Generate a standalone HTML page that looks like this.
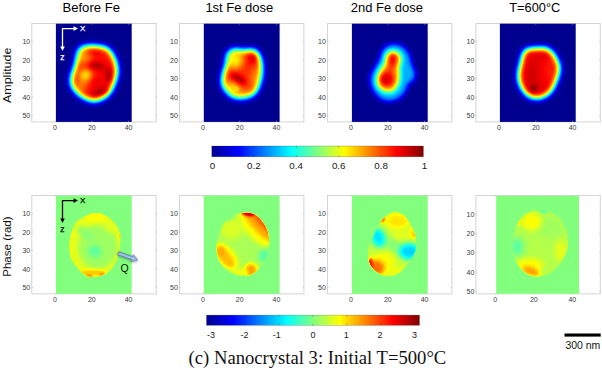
<!DOCTYPE html>
<html><head><meta charset="utf-8"><title>Nanocrystal 3</title>
<style>html,body{margin:0;padding:0;background:#fff}svg{display:block}</style></head>
<body><svg width="602" height="368" viewBox="0 0 602 368">
<defs><filter id="jet" x="0" y="0" width="100%" height="100%" filterUnits="objectBoundingBox" color-interpolation-filters="sRGB">
<feComponentTransfer>
<feFuncR type="table" tableValues="0 0 0 0 0.5 1 1 1 0.5"/>
<feFuncG type="table" tableValues="0 0 0.5 1 1 1 0.5 0 0"/>
<feFuncB type="table" tableValues="0.5625 1 1 1 0.5 0 0 0 0"/>
</feComponentTransfer></filter><filter id="b1" x="-50%" y="-50%" width="200%" height="200%" color-interpolation-filters="sRGB"><feGaussianBlur stdDeviation="1"/></filter><filter id="b1_5" x="-50%" y="-50%" width="200%" height="200%" color-interpolation-filters="sRGB"><feGaussianBlur stdDeviation="1.5"/></filter><filter id="b2" x="-50%" y="-50%" width="200%" height="200%" color-interpolation-filters="sRGB"><feGaussianBlur stdDeviation="2"/></filter><filter id="b2_5" x="-50%" y="-50%" width="200%" height="200%" color-interpolation-filters="sRGB"><feGaussianBlur stdDeviation="2.5"/></filter><filter id="b3" x="-50%" y="-50%" width="200%" height="200%" color-interpolation-filters="sRGB"><feGaussianBlur stdDeviation="3"/></filter><filter id="b4" x="-50%" y="-50%" width="200%" height="200%" color-interpolation-filters="sRGB"><feGaussianBlur stdDeviation="4"/></filter><filter id="b5" x="-50%" y="-50%" width="200%" height="200%" color-interpolation-filters="sRGB"><feGaussianBlur stdDeviation="5"/></filter><filter id="b6" x="-50%" y="-50%" width="200%" height="200%" color-interpolation-filters="sRGB"><feGaussianBlur stdDeviation="6"/></filter><clipPath id="ca0"><rect x="55.9" y="23.7" width="75.8" height="98.2"/></clipPath><clipPath id="cs0"><path d="M90.5,45.5C86.6,45.5 83.5,46.0 81.4,47.1C79.2,48.1 78.5,49.8 77.6,52.1C76.7,54.3 76.5,57.8 76.0,60.5C75.4,63.1 75.1,65.4 74.3,68.1C73.4,70.9 71.4,74.0 71.0,77.1C70.6,80.2 70.7,83.8 71.9,86.7C73.1,89.5 75.7,92.2 78.3,94.4C81.0,96.6 85.0,98.8 87.9,99.9C90.8,101.1 92.8,101.7 95.6,101.3C98.5,100.9 102.6,99.5 105.2,97.6C107.9,95.7 109.9,92.7 111.6,90.0C113.3,87.3 114.4,84.2 115.4,81.2C116.4,78.2 117.4,75.2 117.5,71.9C117.6,68.7 117.1,65.0 116.0,61.6C114.9,58.3 113.1,54.4 111.2,52.0C109.3,49.6 108.2,48.1 104.7,47.1C101.3,46.0 94.4,45.5 90.5,45.5Z"/></clipPath><clipPath id="ca1"><rect x="203.8" y="23.7" width="75.8" height="98.2"/></clipPath><clipPath id="cs1"><path d="M243.5,50.4C241.1,50.4 238.3,48.8 236.1,48.8C233.9,48.8 231.9,49.4 230.4,50.5C228.8,51.5 227.5,52.7 226.8,55.0C226.0,57.4 226.4,60.9 225.7,64.6C224.9,68.2 222.7,73.1 222.2,76.7C221.7,80.3 221.7,83.2 222.6,86.0C223.6,88.9 225.8,91.9 228.0,93.9C230.2,95.9 233.2,97.3 236.0,98.0C238.8,98.8 241.8,98.9 244.8,98.3C247.9,97.7 251.6,96.8 254.1,94.5C256.7,92.1 258.6,88.0 259.9,84.2C261.3,80.5 262.0,75.9 262.2,71.8C262.4,67.8 262.0,63.2 261.1,59.9C260.3,56.6 258.8,53.6 257.0,51.8C255.3,50.1 252.8,49.4 250.5,49.2C248.3,48.9 245.9,50.5 243.5,50.4Z"/></clipPath><clipPath id="ca2"><rect x="351.9" y="23.7" width="75.8" height="98.2"/></clipPath><clipPath id="cs2"><path d="M392.2,51.3C390.0,51.5 387.5,53.3 386.3,55.3C385.1,57.2 385.7,60.7 384.8,63.1C383.8,65.5 381.9,67.0 380.6,69.5C379.3,71.9 377.5,75.0 377.1,77.8C376.8,80.7 377.1,84.4 378.5,86.7C379.9,89.0 383.1,91.2 385.7,91.8C388.3,92.4 391.9,92.0 394.1,90.4C396.3,88.9 397.9,85.3 398.8,82.6C399.8,79.9 399.7,76.6 399.7,74.0C399.8,71.5 399.0,69.6 399.3,67.2C399.5,64.8 401.3,62.0 401.3,59.7C401.3,57.4 400.6,54.9 399.1,53.5C397.6,52.1 394.3,51.0 392.2,51.3Z"/></clipPath><clipPath id="ca3"><rect x="499.9" y="23.7" width="75.8" height="98.2"/></clipPath><clipPath id="cs3"><path d="M537.1,48.0C533.8,48.1 529.5,48.0 527.1,48.9C524.8,49.8 524.0,51.3 523.0,53.5C521.9,55.7 521.5,58.8 520.8,62.0C520.0,65.3 518.5,69.5 518.3,73.1C518.0,76.6 518.1,80.0 519.3,83.5C520.5,86.9 523.0,91.2 525.3,93.7C527.7,96.1 530.5,97.6 533.3,98.3C536.1,99.0 539.3,98.7 542.1,97.8C544.9,96.8 547.8,95.4 550.1,92.8C552.4,90.2 554.5,86.0 556.1,82.2C557.7,78.4 559.3,73.2 559.6,69.9C559.9,66.5 559.3,64.8 558.2,61.9C557.1,59.1 554.9,55.2 553.0,52.9C551.2,50.7 549.8,49.2 547.1,48.4C544.5,47.6 540.5,47.9 537.1,48.0Z"/></clipPath><clipPath id="cp0"><path d="M95.8,212.7C91.9,212.8 86.9,214.9 83.5,216.7C80.1,218.6 77.5,220.6 75.4,223.5C73.3,226.5 71.8,230.6 70.8,234.4C69.7,238.3 69.0,242.6 69.1,246.6C69.2,250.7 69.8,255.2 71.3,258.9C72.8,262.5 75.6,265.5 78.1,268.4C80.6,271.2 83.3,274.6 86.2,276.0C89.2,277.4 92.6,277.1 95.8,276.8C98.9,276.5 102.3,275.8 105.3,274.1C108.2,272.3 111.3,269.2 113.4,266.2C115.6,263.2 116.9,259.6 118.0,256.1C119.2,252.7 119.9,249.1 120.2,245.3C120.5,241.4 120.6,236.7 119.7,233.0C118.8,229.4 117.0,226.3 114.8,223.5C112.6,220.7 109.8,218.0 106.6,216.2C103.5,214.4 99.6,212.6 95.8,212.7Z"/></clipPath><clipPath id="cp1"><path d="M245.1,212.7C241.5,212.8 236.3,213.8 232.9,215.4C229.5,217.0 227.0,219.2 224.7,222.2C222.5,225.1 220.7,229.0 219.3,233.0C217.9,237.1 216.8,242.6 216.6,246.6C216.4,250.7 216.8,254.1 217.9,257.5C219.1,260.9 220.9,264.3 223.4,267.0C225.9,269.7 229.5,272.3 232.9,273.8C236.3,275.3 240.4,276.0 243.8,276.0C247.2,276.0 250.3,275.5 253.3,273.8C256.2,272.1 259.2,268.8 261.4,265.7C263.7,262.5 265.6,258.6 266.9,254.8C268.1,250.9 268.9,246.4 269.0,242.6C269.2,238.7 268.7,235.1 267.7,231.7C266.6,228.3 265.0,225.0 262.8,222.2C260.6,219.3 257.6,216.2 254.6,214.6C251.7,213.0 248.7,212.5 245.1,212.7Z"/></clipPath><clipPath id="cp2"><path d="M394.5,211.8C391.8,212.0 388.7,213.7 386.3,215.4C384.0,217.1 382.2,219.5 380.3,222.2C378.5,224.9 377.1,228.3 375.5,231.7C373.8,235.1 371.8,238.9 370.6,242.6C369.3,246.2 368.0,250.0 367.8,253.4C367.7,256.8 368.2,260.0 369.5,262.9C370.7,265.9 372.9,268.9 375.5,271.1C378.0,273.3 381.8,275.3 385.0,276.0C388.1,276.7 391.5,276.2 394.5,275.2C397.4,274.1 400.1,272.0 402.6,269.7C405.1,267.5 407.4,264.5 409.4,261.6C411.5,258.6 413.7,255.2 414.9,252.1C416.0,248.9 416.4,246.0 416.2,242.6C416.1,239.2 415.2,235.1 414.0,231.7C412.9,228.3 411.3,225.0 409.4,222.2C407.5,219.3 405.1,216.3 402.6,214.6C400.1,212.8 397.2,211.7 394.5,211.8Z"/></clipPath><clipPath id="cp3"><path d="M539.9,210.0C536.0,209.8 532.2,210.5 529.0,211.9C525.8,213.2 523.1,215.3 520.9,218.1C518.6,221.0 516.8,225.2 515.4,229.0C514.1,232.9 513.1,237.4 512.7,241.3C512.2,245.1 512.0,248.5 512.7,252.2C513.4,255.8 514.7,259.6 516.8,263.0C518.8,266.4 522.0,270.3 524.9,272.6C527.9,274.8 531.1,276.2 534.5,276.6C537.9,277.1 541.9,276.4 545.3,275.3C548.8,274.2 551.9,272.6 554.9,269.8C557.8,267.1 560.9,262.8 563.0,259.0C565.2,255.1 567.3,251.0 567.9,246.7C568.6,242.4 568.2,237.4 567.1,233.1C566.1,228.8 564.2,224.3 561.7,220.9C559.2,217.5 555.8,214.5 552.2,212.7C548.5,210.9 543.8,210.1 539.9,210.0Z"/></clipPath><linearGradient id="jg" x1="0" x2="1" y1="0" y2="0">
<stop offset="0" stop-color="#00008f"/><stop offset="0.125" stop-color="#0000ff"/><stop offset="0.25" stop-color="#0080ff"/><stop offset="0.375" stop-color="#00ffff"/><stop offset="0.5" stop-color="#80ff80"/><stop offset="0.625" stop-color="#ffff00"/><stop offset="0.75" stop-color="#ff8000"/><stop offset="0.875" stop-color="#ff0000"/><stop offset="1" stop-color="#800000"/></linearGradient><filter id="sh" x="-30%" y="-30%" width="180%" height="200%"><feDropShadow dx="0.8" dy="1" stdDeviation="0.8" flood-color="#000" flood-opacity="0.35"/></filter></defs>
<rect width="602" height="368" fill="#fff"/>
<rect x="31.8" y="23.5" width="124.4" height="98.4" fill="none" stroke="#d4d4d4" stroke-width="1"/>
<rect x="179.5" y="23.5" width="124.4" height="98.4" fill="none" stroke="#d4d4d4" stroke-width="1"/>
<rect x="327.5" y="23.5" width="124.4" height="98.4" fill="none" stroke="#d4d4d4" stroke-width="1"/>
<rect x="475.9" y="23.5" width="124.4" height="98.4" fill="none" stroke="#d4d4d4" stroke-width="1"/>
<rect x="31.8" y="195.5" width="124.4" height="98.4" fill="none" stroke="#d4d4d4" stroke-width="1"/>
<rect x="179.5" y="195.5" width="124.4" height="98.4" fill="none" stroke="#d4d4d4" stroke-width="1"/>
<rect x="327.5" y="195.5" width="124.4" height="98.4" fill="none" stroke="#d4d4d4" stroke-width="1"/>
<rect x="475.9" y="195.5" width="124.4" height="98.4" fill="none" stroke="#d4d4d4" stroke-width="1"/>
<g filter="url(#jet)"><rect x="55.9" y="23.7" width="75.8" height="98.2" fill="#000"/><g clip-path="url(#ca0)"><g style="filter:blur(3.2px)"><path d="M90.5,45.5C86.6,45.5 83.5,46.0 81.4,47.1C79.2,48.1 78.5,49.8 77.6,52.1C76.7,54.3 76.5,57.8 76.0,60.5C75.4,63.1 75.1,65.4 74.3,68.1C73.4,70.9 71.4,74.0 71.0,77.1C70.6,80.2 70.7,83.8 71.9,86.7C73.1,89.5 75.7,92.2 78.3,94.4C81.0,96.6 85.0,98.8 87.9,99.9C90.8,101.1 92.8,101.7 95.6,101.3C98.5,100.9 102.6,99.5 105.2,97.6C107.9,95.7 109.9,92.7 111.6,90.0C113.3,87.3 114.4,84.2 115.4,81.2C116.4,78.2 117.4,75.2 117.5,71.9C117.6,68.7 117.1,65.0 116.0,61.6C114.9,58.3 113.1,54.4 111.2,52.0C109.3,49.6 108.2,48.1 104.7,47.1C101.3,46.0 94.4,45.5 90.5,45.5Z" fill="#dbdbdb"/><g clip-path="url(#cs0)"><ellipse cx="84.3" cy="55.6" rx="8.2" ry="8.2" fill="#b8b8b8" transform="rotate(0 84.3 55.6)" style="filter:blur(1.7600000000000002px)" opacity="1"/><ellipse cx="85.4" cy="75.2" rx="6.5" ry="6.5" fill="#a8a8a8" transform="rotate(0 85.4 75.2)" style="filter:blur(1.6px)" opacity="1"/><ellipse cx="81.1" cy="86.0" rx="4.9" ry="6.0" fill="#bababa" transform="rotate(0 81.1 86.0)" style="filter:blur(1.7600000000000002px)" opacity="1"/><ellipse cx="96.3" cy="65.7" rx="9.2" ry="3.0" fill="#fcfcfc" transform="rotate(8 96.3 65.7)" style="filter:blur(1.2800000000000002px)" opacity="1"/><ellipse cx="108.8" cy="75.2" rx="3.0" ry="9.2" fill="#fafafa" transform="rotate(0 108.8 75.2)" style="filter:blur(1.4400000000000002px)" opacity="1"/><ellipse cx="100.7" cy="92.0" rx="10.9" ry="3.8" fill="#f7f7f7" transform="rotate(-15 100.7 92.0)" style="filter:blur(1.4400000000000002px)" opacity="1"/><ellipse cx="93.0" cy="51.8" rx="7.1" ry="2.2" fill="#f2f2f2" transform="rotate(0 93.0 51.8)" style="filter:blur(1.1199999999999999px)" opacity="1"/><ellipse cx="95.8" cy="81.4" rx="5.4" ry="3.8" fill="#ebebeb" transform="rotate(0 95.8 81.4)" style="filter:blur(1.6px)" opacity="1"/></g></g><ellipse cx="96.3" cy="65.7" rx="7.1" ry="1.4" fill="#ffffff" transform="rotate(8 96.3 65.7)" style="filter:blur(1.8px)" opacity="0.5"/><ellipse cx="108.8" cy="75.2" rx="1.4" ry="6.5" fill="#ffffff" transform="rotate(0 108.8 75.2)" style="filter:blur(1.8px)" opacity="0.5"/><ellipse cx="100.7" cy="92.0" rx="8.2" ry="1.6" fill="#ffffff" transform="rotate(-15 100.7 92.0)" style="filter:blur(1.8px)" opacity="0.45"/><ellipse cx="85.4" cy="75.2" rx="3.8" ry="3.8" fill="#a3a3a3" transform="rotate(0 85.4 75.2)" style="filter:blur(2px)" opacity="0.6"/></g></g>
<g filter="url(#jet)"><rect x="203.8" y="23.7" width="75.8" height="98.2" fill="#000"/><g clip-path="url(#ca1)"><g style="filter:blur(3.4px)"><path d="M243.5,50.4C241.1,50.4 238.3,48.8 236.1,48.8C233.9,48.8 231.9,49.4 230.4,50.5C228.8,51.5 227.5,52.7 226.8,55.0C226.0,57.4 226.4,60.9 225.7,64.6C224.9,68.2 222.7,73.1 222.2,76.7C221.7,80.3 221.7,83.2 222.6,86.0C223.6,88.9 225.8,91.9 228.0,93.9C230.2,95.9 233.2,97.3 236.0,98.0C238.8,98.8 241.8,98.9 244.8,98.3C247.9,97.7 251.6,96.8 254.1,94.5C256.7,92.1 258.6,88.0 259.9,84.2C261.3,80.5 262.0,75.9 262.2,71.8C262.4,67.8 262.0,63.2 261.1,59.9C260.3,56.6 258.8,53.6 257.0,51.8C255.3,50.1 252.8,49.4 250.5,49.2C248.3,48.9 245.9,50.5 243.5,50.4Z" fill="#cfcfcf"/><g clip-path="url(#cs1)"><ellipse cx="235.1" cy="60.0" rx="7.3" ry="8.2" fill="#9e9e9e" transform="rotate(0 235.1 60.0)" style="filter:blur(1.7600000000000002px)" opacity="1"/><ellipse cx="253.0" cy="57.8" rx="4.9" ry="6.0" fill="#f2f2f2" transform="rotate(25 253.0 57.8)" style="filter:blur(1.6px)" opacity="1"/><ellipse cx="238.3" cy="78.7" rx="9.8" ry="3.0" fill="#ffffff" transform="rotate(32 238.3 78.7)" style="filter:blur(1.2800000000000002px)" opacity="1"/><ellipse cx="231.0" cy="87.7" rx="5.4" ry="6.0" fill="#a3a3a3" transform="rotate(0 231.0 87.7)" style="filter:blur(1.7600000000000002px)" opacity="1"/><ellipse cx="236.7" cy="89.0" rx="2.4" ry="2.4" fill="#858585" transform="rotate(0 236.7 89.0)" style="filter:blur(0.8800000000000001px)" opacity="1"/><ellipse cx="256.3" cy="79.5" rx="3.3" ry="11.4" fill="#b2b2b2" transform="rotate(0 256.3 79.5)" style="filter:blur(2.0px)" opacity="1"/><ellipse cx="244.6" cy="94.7" rx="8.2" ry="2.4" fill="#a8a8a8" transform="rotate(0 244.6 94.7)" style="filter:blur(1.7600000000000002px)" opacity="1"/><ellipse cx="246.5" cy="68.7" rx="5.4" ry="3.8" fill="#dbdbdb" transform="rotate(0 246.5 68.7)" style="filter:blur(2.0px)" opacity="1"/></g></g><ellipse cx="238.9" cy="79.0" rx="7.1" ry="1.6" fill="#ffffff" transform="rotate(32 238.9 79.0)" style="filter:blur(1.8px)" opacity="0.6"/><ellipse cx="236.7" cy="89.0" rx="1.6" ry="1.6" fill="#8c8c8c" transform="rotate(0 236.7 89.0)" style="filter:blur(1.4px)" opacity="0.7"/></g></g>
<g filter="url(#jet)"><rect x="351.9" y="23.7" width="75.8" height="98.2" fill="#000"/><g clip-path="url(#ca2)"><path d="M391.9,43.9C388.8,44.4 385.2,46.0 383.1,48.6C380.9,51.2 380.7,56.1 379.1,59.5C377.5,63.0 374.8,66.1 373.3,69.4C371.7,72.8 369.9,75.8 369.9,79.5C370.0,83.2 371.4,88.1 373.6,91.5C375.8,95.0 379.3,98.9 383.0,100.3C386.7,101.8 392.1,101.5 395.7,100.2C399.4,98.9 402.9,95.2 405.0,92.5C407.1,89.9 406.7,86.5 408.3,84.3C409.8,82.0 413.3,81.0 414.4,78.9C415.6,76.9 415.6,74.5 415.1,71.9C414.7,69.4 412.5,66.6 411.5,63.5C410.5,60.5 410.6,56.8 409.1,53.8C407.5,50.9 405.0,47.7 402.1,46.0C399.2,44.4 395.1,43.5 391.9,43.9Z" fill="#4c4c4c" style="filter:blur(2.6px)"/><g style="filter:blur(2.7px)"><path d="M392.2,51.3C390.0,51.5 387.5,53.3 386.3,55.3C385.1,57.2 385.7,60.7 384.8,63.1C383.8,65.5 381.9,67.0 380.6,69.5C379.3,71.9 377.5,75.0 377.1,77.8C376.8,80.7 377.1,84.4 378.5,86.7C379.9,89.0 383.1,91.2 385.7,91.8C388.3,92.4 391.9,92.0 394.1,90.4C396.3,88.9 397.9,85.3 398.8,82.6C399.8,79.9 399.7,76.6 399.7,74.0C399.8,71.5 399.0,69.6 399.3,67.2C399.5,64.8 401.3,62.0 401.3,59.7C401.3,57.4 400.6,54.9 399.1,53.5C397.6,52.1 394.3,51.0 392.2,51.3Z" fill="#b8b8b8"/><g clip-path="url(#cs2)"><ellipse cx="392.6" cy="59.4" rx="3.5" ry="7.6" fill="#ededed" transform="rotate(5 392.6 59.4)" style="filter:blur(1.4400000000000002px)" opacity="1"/><ellipse cx="386.6" cy="79.2" rx="7.3" ry="7.1" fill="#ebebeb" transform="rotate(0 386.6 79.2)" style="filter:blur(1.6px)" opacity="1"/><ellipse cx="390.7" cy="69.7" rx="2.7" ry="5.4" fill="#dbdbdb" transform="rotate(20 390.7 69.7)" style="filter:blur(1.6px)" opacity="1"/></g></g></g></g>
<g filter="url(#jet)"><rect x="499.9" y="23.7" width="75.8" height="98.2" fill="#000"/><g clip-path="url(#ca3)"><g style="filter:blur(3.2px)"><path d="M537.1,48.0C533.8,48.1 529.5,48.0 527.1,48.9C524.8,49.8 524.0,51.3 523.0,53.5C521.9,55.7 521.5,58.8 520.8,62.0C520.0,65.3 518.5,69.5 518.3,73.1C518.0,76.6 518.1,80.0 519.3,83.5C520.5,86.9 523.0,91.2 525.3,93.7C527.7,96.1 530.5,97.6 533.3,98.3C536.1,99.0 539.3,98.7 542.1,97.8C544.9,96.8 547.8,95.4 550.1,92.8C552.4,90.2 554.5,86.0 556.1,82.2C557.7,78.4 559.3,73.2 559.6,69.9C559.9,66.5 559.3,64.8 558.2,61.9C557.1,59.1 554.9,55.2 553.0,52.9C551.2,50.7 549.8,49.2 547.1,48.4C544.5,47.6 540.5,47.9 537.1,48.0Z" fill="#e3e3e3"/><g clip-path="url(#cs3)"><ellipse cx="533.2" cy="88.2" rx="5.4" ry="4.9" fill="#f7f7f7" transform="rotate(0 533.2 88.2)" style="filter:blur(1.4400000000000002px)" opacity="1"/><ellipse cx="532.2" cy="73.3" rx="2.4" ry="13.6" fill="#f2f2f2" transform="rotate(5 532.2 73.3)" style="filter:blur(1.6px)" opacity="1"/><ellipse cx="550.6" cy="69.2" rx="4.9" ry="13.6" fill="#d6d6d6" transform="rotate(0 550.6 69.2)" style="filter:blur(2.0px)" opacity="1"/><ellipse cx="539.8" cy="55.6" rx="10.9" ry="4.1" fill="#e8e8e8" transform="rotate(0 539.8 55.6)" style="filter:blur(2.0px)" opacity="1"/></g></g><ellipse cx="533.5" cy="88.5" rx="2.7" ry="2.4" fill="#ffffff" transform="rotate(0 533.5 88.5)" style="filter:blur(1.6px)" opacity="0.9"/></g></g>
<g filter="url(#jet)"><rect x="55.9" y="195.6" width="75.8" height="98.2" fill="#808080"/><g clip-path="url(#cp0)"><rect x="55.9" y="195.6" width="75.8" height="98.2" fill="#9a9a9a"/><ellipse cx="97.1" cy="247.2" rx="19.0" ry="22.8" fill="#888888" transform="rotate(0 97.1 247.2)" style="filter:blur(2.6px)"/><ellipse cx="85.4" cy="233.0" rx="10.3" ry="4.1" fill="#818181" transform="rotate(35 85.4 233.0)" style="filter:blur(2.4px)"/><ellipse cx="95.2" cy="251.2" rx="7.1" ry="6.0" fill="#777777" transform="rotate(0 95.2 251.2)" style="filter:blur(2.6px)"/><ellipse cx="109.3" cy="246.6" rx="7.1" ry="12.0" fill="#878787" transform="rotate(0 109.3 246.6)" style="filter:blur(3px)"/><ellipse cx="95.8" cy="217.8" rx="10.3" ry="3.8" fill="#9f9f9f" transform="rotate(0 95.8 217.8)" style="filter:blur(2px)"/><ellipse cx="109.3" cy="227.6" rx="5.4" ry="3.8" fill="#969696" transform="rotate(30 109.3 227.6)" style="filter:blur(2px)"/><ellipse cx="93.0" cy="272.7" rx="13.6" ry="3.3" fill="#adadad" transform="rotate(0 93.0 272.7)" style="filter:blur(1.7px)"/><ellipse cx="89.0" cy="276.0" rx="3.3" ry="1.1" fill="#cccccc" transform="rotate(0 89.0 276.0)" style="filter:blur(0.9px)"/><ellipse cx="101.7" cy="274.6" rx="2.7" ry="1.1" fill="#cccccc" transform="rotate(0 101.7 274.6)" style="filter:blur(0.9px)"/><ellipse cx="120.5" cy="235.8" rx="1.1" ry="3.3" fill="#bfbfbf" transform="rotate(0 120.5 235.8)" style="filter:blur(0.8px)"/><ellipse cx="80.8" cy="216.7" rx="2.7" ry="1.4" fill="#737373" transform="rotate(0 80.8 216.7)" style="filter:blur(1.0px)"/></g></g>
<g filter="url(#jet)"><rect x="203.8" y="195.6" width="75.8" height="98.2" fill="#808080"/><g clip-path="url(#cp1)"><rect x="203.8" y="195.6" width="75.8" height="98.2" fill="#8a8a8a"/><ellipse cx="231.5" cy="229.0" rx="11.4" ry="10.9" fill="#969696" transform="rotate(0 231.5 229.0)" style="filter:blur(3px)"/><ellipse cx="256.8" cy="227.3" rx="24.5" ry="11.4" fill="#9e9e9e" transform="rotate(47.7 256.8 227.3)" style="filter:blur(2.0px)"/><ellipse cx="259.5" cy="224.1" rx="23.9" ry="7.1" fill="#b6b6b6" transform="rotate(47.7 259.5 224.1)" style="filter:blur(1.9px)"/><ellipse cx="262.2" cy="221.6" rx="19.0" ry="3.8" fill="#c7c7c7" transform="rotate(47.7 262.2 221.6)" style="filter:blur(1.5px)"/><ellipse cx="247.8" cy="213.5" rx="6.5" ry="2.4" fill="#ededed" transform="rotate(12 247.8 213.5)" style="filter:blur(1.0px)"/><ellipse cx="226.4" cy="255.9" rx="16.3" ry="8.7" fill="#9e9e9e" transform="rotate(50 226.4 255.9)" style="filter:blur(2.2px)"/><ellipse cx="224.7" cy="257.0" rx="14.1" ry="5.7" fill="#b1b1b1" transform="rotate(50 224.7 257.0)" style="filter:blur(2.2px)"/><ellipse cx="221.5" cy="251.5" rx="3.3" ry="4.9" fill="#b5b5b5" transform="rotate(0 221.5 251.5)" style="filter:blur(1.6px)"/><ellipse cx="250.8" cy="270.0" rx="7.1" ry="7.1" fill="#a3a3a3" transform="rotate(0 250.8 270.0)" style="filter:blur(2.2px)"/><ellipse cx="250.8" cy="270.5" rx="5.2" ry="6.0" fill="#b9b9b9" transform="rotate(0 250.8 270.5)" style="filter:blur(2.2px)"/><ellipse cx="239.7" cy="272.2" rx="8.7" ry="3.5" fill="#9e9e9e" transform="rotate(0 239.7 272.2)" style="filter:blur(2px)"/><ellipse cx="265.5" cy="255.9" rx="7.1" ry="6.0" fill="#747474" transform="rotate(0 265.5 255.9)" style="filter:blur(2.0px)"/><ellipse cx="229.6" cy="217.3" rx="4.9" ry="1.9" fill="#787878" transform="rotate(-35 229.6 217.3)" style="filter:blur(1.2px)"/></g></g>
<g filter="url(#jet)"><rect x="351.9" y="195.6" width="75.8" height="98.2" fill="#808080"/><g clip-path="url(#cp2)"><rect x="351.9" y="195.6" width="75.8" height="98.2" fill="#939393"/><ellipse cx="386.3" cy="259.7" rx="10.3" ry="8.2" fill="#9d9d9d" transform="rotate(20 386.3 259.7)" style="filter:blur(2.5px)"/><ellipse cx="395.8" cy="271.6" rx="8.2" ry="4.3" fill="#9e9e9e" transform="rotate(0 395.8 271.6)" style="filter:blur(2.5px)"/><ellipse cx="401.3" cy="235.8" rx="8.2" ry="5.4" fill="#999999" transform="rotate(0 401.3 235.8)" style="filter:blur(2.5px)"/><ellipse cx="393.1" cy="245.3" rx="16.3" ry="6.0" fill="#828282" transform="rotate(25 393.1 245.3)" style="filter:blur(2.5px)"/><ellipse cx="378.2" cy="237.9" rx="9.2" ry="12.0" fill="#808080" transform="rotate(-15 378.2 237.9)" style="filter:blur(2.5px)"/><ellipse cx="408.6" cy="251.5" rx="12.0" ry="9.8" fill="#7d7d7d" transform="rotate(0 408.6 251.5)" style="filter:blur(2.5px)"/><ellipse cx="378.2" cy="237.4" rx="6.0" ry="9.0" fill="#595959" transform="rotate(-20 378.2 237.4)" style="filter:blur(1.9px)"/><ellipse cx="409.2" cy="251.5" rx="9.5" ry="7.3" fill="#555555" transform="rotate(0 409.2 251.5)" style="filter:blur(2.1px)"/><ellipse cx="397.7" cy="221.1" rx="11.4" ry="7.6" fill="#a6a6a6" transform="rotate(0 397.7 221.1)" style="filter:blur(2.4px)"/><ellipse cx="412.4" cy="233.0" rx="3.8" ry="6.0" fill="#a4a4a4" transform="rotate(0 412.4 233.0)" style="filter:blur(1.8px)"/><ellipse cx="382.5" cy="218.9" rx="2.7" ry="3.8" fill="#c2c2c2" transform="rotate(0 382.5 218.9)" style="filter:blur(1.1px)"/><ellipse cx="415.1" cy="234.4" rx="1.6" ry="3.8" fill="#b5b5b5" transform="rotate(0 415.1 234.4)" style="filter:blur(1.1px)"/><ellipse cx="377.6" cy="266.2" rx="12.0" ry="10.3" fill="#a3a3a3" transform="rotate(0 377.6 266.2)" style="filter:blur(2.5px)"/><ellipse cx="376.0" cy="267.8" rx="8.2" ry="7.3" fill="#c4c4c4" transform="rotate(0 376.0 267.8)" style="filter:blur(2.0px)"/><ellipse cx="370.6" cy="263.5" rx="2.4" ry="5.4" fill="#dbdbdb" transform="rotate(0 370.6 263.5)" style="filter:blur(1.0px)"/></g></g>
<g filter="url(#jet)"><rect x="496.2" y="195.9" width="82.8" height="97.8" fill="#808080"/><g clip-path="url(#cp3)"><rect x="496.2" y="195.9" width="82.8" height="97.8" fill="#8d8d8d"/><ellipse cx="550.8" cy="227.7" rx="12.2" ry="10.3" fill="#888888" transform="rotate(0 550.8 227.7)" style="filter:blur(3.2px)"/><ellipse cx="531.7" cy="221.7" rx="10.3" ry="8.7" fill="#9f9f9f" transform="rotate(0 531.7 221.7)" style="filter:blur(2.6px)"/><ellipse cx="543.4" cy="210.8" rx="4.9" ry="1.6" fill="#6e6e6e" transform="rotate(10 543.4 210.8)" style="filter:blur(1.0px)"/><ellipse cx="517.9" cy="246.7" rx="7.1" ry="10.9" fill="#7e7e7e" transform="rotate(0 517.9 246.7)" style="filter:blur(2.4px)"/><ellipse cx="516.8" cy="246.7" rx="3.3" ry="6.0" fill="#757575" transform="rotate(0 516.8 246.7)" style="filter:blur(1.8px)"/><ellipse cx="529.8" cy="264.7" rx="13.6" ry="6.5" fill="#9f9f9f" transform="rotate(0 529.8 264.7)" style="filter:blur(2.4px)"/><ellipse cx="531.2" cy="271.5" rx="9.8" ry="4.4" fill="#b9b9b9" transform="rotate(18 531.2 271.5)" style="filter:blur(2.0px)"/><ellipse cx="560.9" cy="250.8" rx="6.0" ry="11.4" fill="#999999" transform="rotate(0 560.9 250.8)" style="filter:blur(2.8px)"/><ellipse cx="518.1" cy="222.2" rx="1.6" ry="3.3" fill="#b2b2b2" transform="rotate(0 518.1 222.2)" style="filter:blur(1.0px)"/></g></g>
<text x="55.0" y="130.2" text-anchor="middle" font-family="Liberation Sans, sans-serif" font-size="7" fill="#3a3a3a">0</text>
<path d="M55.0,121.9v-1.2M55.0,23.5v1.2" stroke="#bbb" stroke-width="0.6"/>
<text x="91.8" y="130.2" text-anchor="middle" font-family="Liberation Sans, sans-serif" font-size="7" fill="#3a3a3a">20</text>
<path d="M91.8,121.9v-1.2M91.8,23.5v1.2" stroke="#bbb" stroke-width="0.6"/>
<text x="128.6" y="130.2" text-anchor="middle" font-family="Liberation Sans, sans-serif" font-size="7" fill="#3a3a3a">40</text>
<path d="M128.6,121.9v-1.2M128.6,23.5v1.2" stroke="#bbb" stroke-width="0.6"/>
<text x="30.2" y="44.0" text-anchor="end" font-family="Liberation Sans, sans-serif" font-size="7" fill="#3a3a3a">10</text>
<path d="M31.8,41.5h1.2M156.20000000000002,41.5h-1.2" stroke="#bbb" stroke-width="0.6"/>
<text x="30.2" y="62.5" text-anchor="end" font-family="Liberation Sans, sans-serif" font-size="7" fill="#3a3a3a">20</text>
<path d="M31.8,60.0h1.2M156.20000000000002,60.0h-1.2" stroke="#bbb" stroke-width="0.6"/>
<text x="30.2" y="81.0" text-anchor="end" font-family="Liberation Sans, sans-serif" font-size="7" fill="#3a3a3a">30</text>
<path d="M31.8,78.5h1.2M156.20000000000002,78.5h-1.2" stroke="#bbb" stroke-width="0.6"/>
<text x="30.2" y="99.5" text-anchor="end" font-family="Liberation Sans, sans-serif" font-size="7" fill="#3a3a3a">40</text>
<path d="M31.8,97.0h1.2M156.20000000000002,97.0h-1.2" stroke="#bbb" stroke-width="0.6"/>
<text x="30.2" y="118.0" text-anchor="end" font-family="Liberation Sans, sans-serif" font-size="7" fill="#3a3a3a">50</text>
<path d="M31.8,115.5h1.2M156.20000000000002,115.5h-1.2" stroke="#bbb" stroke-width="0.6"/>
<text x="202.9" y="130.2" text-anchor="middle" font-family="Liberation Sans, sans-serif" font-size="7" fill="#3a3a3a">0</text>
<path d="M202.9,121.9v-1.2M202.9,23.5v1.2" stroke="#bbb" stroke-width="0.6"/>
<text x="239.7" y="130.2" text-anchor="middle" font-family="Liberation Sans, sans-serif" font-size="7" fill="#3a3a3a">20</text>
<path d="M239.7,121.9v-1.2M239.7,23.5v1.2" stroke="#bbb" stroke-width="0.6"/>
<text x="276.5" y="130.2" text-anchor="middle" font-family="Liberation Sans, sans-serif" font-size="7" fill="#3a3a3a">40</text>
<path d="M276.5,121.9v-1.2M276.5,23.5v1.2" stroke="#bbb" stroke-width="0.6"/>
<text x="177.9" y="44.0" text-anchor="end" font-family="Liberation Sans, sans-serif" font-size="7" fill="#3a3a3a">10</text>
<path d="M179.5,41.5h1.2M303.9,41.5h-1.2" stroke="#bbb" stroke-width="0.6"/>
<text x="177.9" y="62.5" text-anchor="end" font-family="Liberation Sans, sans-serif" font-size="7" fill="#3a3a3a">20</text>
<path d="M179.5,60.0h1.2M303.9,60.0h-1.2" stroke="#bbb" stroke-width="0.6"/>
<text x="177.9" y="81.0" text-anchor="end" font-family="Liberation Sans, sans-serif" font-size="7" fill="#3a3a3a">30</text>
<path d="M179.5,78.5h1.2M303.9,78.5h-1.2" stroke="#bbb" stroke-width="0.6"/>
<text x="177.9" y="99.5" text-anchor="end" font-family="Liberation Sans, sans-serif" font-size="7" fill="#3a3a3a">40</text>
<path d="M179.5,97.0h1.2M303.9,97.0h-1.2" stroke="#bbb" stroke-width="0.6"/>
<text x="177.9" y="118.0" text-anchor="end" font-family="Liberation Sans, sans-serif" font-size="7" fill="#3a3a3a">50</text>
<path d="M179.5,115.5h1.2M303.9,115.5h-1.2" stroke="#bbb" stroke-width="0.6"/>
<text x="351.0" y="130.2" text-anchor="middle" font-family="Liberation Sans, sans-serif" font-size="7" fill="#3a3a3a">0</text>
<path d="M351.0,121.9v-1.2M351.0,23.5v1.2" stroke="#bbb" stroke-width="0.6"/>
<text x="387.8" y="130.2" text-anchor="middle" font-family="Liberation Sans, sans-serif" font-size="7" fill="#3a3a3a">20</text>
<path d="M387.8,121.9v-1.2M387.8,23.5v1.2" stroke="#bbb" stroke-width="0.6"/>
<text x="424.6" y="130.2" text-anchor="middle" font-family="Liberation Sans, sans-serif" font-size="7" fill="#3a3a3a">40</text>
<path d="M424.6,121.9v-1.2M424.6,23.5v1.2" stroke="#bbb" stroke-width="0.6"/>
<text x="325.9" y="44.0" text-anchor="end" font-family="Liberation Sans, sans-serif" font-size="7" fill="#3a3a3a">10</text>
<path d="M327.5,41.5h1.2M451.9,41.5h-1.2" stroke="#bbb" stroke-width="0.6"/>
<text x="325.9" y="62.5" text-anchor="end" font-family="Liberation Sans, sans-serif" font-size="7" fill="#3a3a3a">20</text>
<path d="M327.5,60.0h1.2M451.9,60.0h-1.2" stroke="#bbb" stroke-width="0.6"/>
<text x="325.9" y="81.0" text-anchor="end" font-family="Liberation Sans, sans-serif" font-size="7" fill="#3a3a3a">30</text>
<path d="M327.5,78.5h1.2M451.9,78.5h-1.2" stroke="#bbb" stroke-width="0.6"/>
<text x="325.9" y="99.5" text-anchor="end" font-family="Liberation Sans, sans-serif" font-size="7" fill="#3a3a3a">40</text>
<path d="M327.5,97.0h1.2M451.9,97.0h-1.2" stroke="#bbb" stroke-width="0.6"/>
<text x="325.9" y="118.0" text-anchor="end" font-family="Liberation Sans, sans-serif" font-size="7" fill="#3a3a3a">50</text>
<path d="M327.5,115.5h1.2M451.9,115.5h-1.2" stroke="#bbb" stroke-width="0.6"/>
<text x="499.0" y="130.2" text-anchor="middle" font-family="Liberation Sans, sans-serif" font-size="7" fill="#3a3a3a">0</text>
<path d="M499.0,121.9v-1.2M499.0,23.5v1.2" stroke="#bbb" stroke-width="0.6"/>
<text x="535.8" y="130.2" text-anchor="middle" font-family="Liberation Sans, sans-serif" font-size="7" fill="#3a3a3a">20</text>
<path d="M535.8,121.9v-1.2M535.8,23.5v1.2" stroke="#bbb" stroke-width="0.6"/>
<text x="572.6" y="130.2" text-anchor="middle" font-family="Liberation Sans, sans-serif" font-size="7" fill="#3a3a3a">40</text>
<path d="M572.6,121.9v-1.2M572.6,23.5v1.2" stroke="#bbb" stroke-width="0.6"/>
<text x="474.3" y="44.0" text-anchor="end" font-family="Liberation Sans, sans-serif" font-size="7" fill="#3a3a3a">10</text>
<path d="M475.9,41.5h1.2M600.3,41.5h-1.2" stroke="#bbb" stroke-width="0.6"/>
<text x="474.3" y="62.5" text-anchor="end" font-family="Liberation Sans, sans-serif" font-size="7" fill="#3a3a3a">20</text>
<path d="M475.9,60.0h1.2M600.3,60.0h-1.2" stroke="#bbb" stroke-width="0.6"/>
<text x="474.3" y="81.0" text-anchor="end" font-family="Liberation Sans, sans-serif" font-size="7" fill="#3a3a3a">30</text>
<path d="M475.9,78.5h1.2M600.3,78.5h-1.2" stroke="#bbb" stroke-width="0.6"/>
<text x="474.3" y="99.5" text-anchor="end" font-family="Liberation Sans, sans-serif" font-size="7" fill="#3a3a3a">40</text>
<path d="M475.9,97.0h1.2M600.3,97.0h-1.2" stroke="#bbb" stroke-width="0.6"/>
<text x="474.3" y="118.0" text-anchor="end" font-family="Liberation Sans, sans-serif" font-size="7" fill="#3a3a3a">50</text>
<path d="M475.9,115.5h1.2M600.3,115.5h-1.2" stroke="#bbb" stroke-width="0.6"/>
<text x="55.0" y="302.2" text-anchor="middle" font-family="Liberation Sans, sans-serif" font-size="7" fill="#3a3a3a">0</text>
<path d="M55.0,293.9v-1.2M55.0,195.5v1.2" stroke="#bbb" stroke-width="0.6"/>
<text x="91.8" y="302.2" text-anchor="middle" font-family="Liberation Sans, sans-serif" font-size="7" fill="#3a3a3a">20</text>
<path d="M91.8,293.9v-1.2M91.8,195.5v1.2" stroke="#bbb" stroke-width="0.6"/>
<text x="128.6" y="302.2" text-anchor="middle" font-family="Liberation Sans, sans-serif" font-size="7" fill="#3a3a3a">40</text>
<path d="M128.6,293.9v-1.2M128.6,195.5v1.2" stroke="#bbb" stroke-width="0.6"/>
<text x="30.2" y="216.0" text-anchor="end" font-family="Liberation Sans, sans-serif" font-size="7" fill="#3a3a3a">10</text>
<path d="M31.8,213.5h1.2M156.20000000000002,213.5h-1.2" stroke="#bbb" stroke-width="0.6"/>
<text x="30.2" y="234.5" text-anchor="end" font-family="Liberation Sans, sans-serif" font-size="7" fill="#3a3a3a">20</text>
<path d="M31.8,232.0h1.2M156.20000000000002,232.0h-1.2" stroke="#bbb" stroke-width="0.6"/>
<text x="30.2" y="253.0" text-anchor="end" font-family="Liberation Sans, sans-serif" font-size="7" fill="#3a3a3a">30</text>
<path d="M31.8,250.5h1.2M156.20000000000002,250.5h-1.2" stroke="#bbb" stroke-width="0.6"/>
<text x="30.2" y="271.5" text-anchor="end" font-family="Liberation Sans, sans-serif" font-size="7" fill="#3a3a3a">40</text>
<path d="M31.8,269.0h1.2M156.20000000000002,269.0h-1.2" stroke="#bbb" stroke-width="0.6"/>
<text x="30.2" y="290.0" text-anchor="end" font-family="Liberation Sans, sans-serif" font-size="7" fill="#3a3a3a">50</text>
<path d="M31.8,287.5h1.2M156.20000000000002,287.5h-1.2" stroke="#bbb" stroke-width="0.6"/>
<text x="202.9" y="302.2" text-anchor="middle" font-family="Liberation Sans, sans-serif" font-size="7" fill="#3a3a3a">0</text>
<path d="M202.9,293.9v-1.2M202.9,195.5v1.2" stroke="#bbb" stroke-width="0.6"/>
<text x="239.7" y="302.2" text-anchor="middle" font-family="Liberation Sans, sans-serif" font-size="7" fill="#3a3a3a">20</text>
<path d="M239.7,293.9v-1.2M239.7,195.5v1.2" stroke="#bbb" stroke-width="0.6"/>
<text x="276.5" y="302.2" text-anchor="middle" font-family="Liberation Sans, sans-serif" font-size="7" fill="#3a3a3a">40</text>
<path d="M276.5,293.9v-1.2M276.5,195.5v1.2" stroke="#bbb" stroke-width="0.6"/>
<text x="177.9" y="216.0" text-anchor="end" font-family="Liberation Sans, sans-serif" font-size="7" fill="#3a3a3a">10</text>
<path d="M179.5,213.5h1.2M303.9,213.5h-1.2" stroke="#bbb" stroke-width="0.6"/>
<text x="177.9" y="234.5" text-anchor="end" font-family="Liberation Sans, sans-serif" font-size="7" fill="#3a3a3a">20</text>
<path d="M179.5,232.0h1.2M303.9,232.0h-1.2" stroke="#bbb" stroke-width="0.6"/>
<text x="177.9" y="253.0" text-anchor="end" font-family="Liberation Sans, sans-serif" font-size="7" fill="#3a3a3a">30</text>
<path d="M179.5,250.5h1.2M303.9,250.5h-1.2" stroke="#bbb" stroke-width="0.6"/>
<text x="177.9" y="271.5" text-anchor="end" font-family="Liberation Sans, sans-serif" font-size="7" fill="#3a3a3a">40</text>
<path d="M179.5,269.0h1.2M303.9,269.0h-1.2" stroke="#bbb" stroke-width="0.6"/>
<text x="177.9" y="290.0" text-anchor="end" font-family="Liberation Sans, sans-serif" font-size="7" fill="#3a3a3a">50</text>
<path d="M179.5,287.5h1.2M303.9,287.5h-1.2" stroke="#bbb" stroke-width="0.6"/>
<text x="351.0" y="302.2" text-anchor="middle" font-family="Liberation Sans, sans-serif" font-size="7" fill="#3a3a3a">0</text>
<path d="M351.0,293.9v-1.2M351.0,195.5v1.2" stroke="#bbb" stroke-width="0.6"/>
<text x="387.8" y="302.2" text-anchor="middle" font-family="Liberation Sans, sans-serif" font-size="7" fill="#3a3a3a">20</text>
<path d="M387.8,293.9v-1.2M387.8,195.5v1.2" stroke="#bbb" stroke-width="0.6"/>
<text x="424.6" y="302.2" text-anchor="middle" font-family="Liberation Sans, sans-serif" font-size="7" fill="#3a3a3a">40</text>
<path d="M424.6,293.9v-1.2M424.6,195.5v1.2" stroke="#bbb" stroke-width="0.6"/>
<text x="325.9" y="216.0" text-anchor="end" font-family="Liberation Sans, sans-serif" font-size="7" fill="#3a3a3a">10</text>
<path d="M327.5,213.5h1.2M451.9,213.5h-1.2" stroke="#bbb" stroke-width="0.6"/>
<text x="325.9" y="234.5" text-anchor="end" font-family="Liberation Sans, sans-serif" font-size="7" fill="#3a3a3a">20</text>
<path d="M327.5,232.0h1.2M451.9,232.0h-1.2" stroke="#bbb" stroke-width="0.6"/>
<text x="325.9" y="253.0" text-anchor="end" font-family="Liberation Sans, sans-serif" font-size="7" fill="#3a3a3a">30</text>
<path d="M327.5,250.5h1.2M451.9,250.5h-1.2" stroke="#bbb" stroke-width="0.6"/>
<text x="325.9" y="271.5" text-anchor="end" font-family="Liberation Sans, sans-serif" font-size="7" fill="#3a3a3a">40</text>
<path d="M327.5,269.0h1.2M451.9,269.0h-1.2" stroke="#bbb" stroke-width="0.6"/>
<text x="325.9" y="290.0" text-anchor="end" font-family="Liberation Sans, sans-serif" font-size="7" fill="#3a3a3a">50</text>
<path d="M327.5,287.5h1.2M451.9,287.5h-1.2" stroke="#bbb" stroke-width="0.6"/>
<text x="495.3" y="302.2" text-anchor="middle" font-family="Liberation Sans, sans-serif" font-size="7" fill="#3a3a3a">0</text>
<path d="M495.3,293.9v-1.2M495.3,195.5v1.2" stroke="#bbb" stroke-width="0.6"/>
<text x="533.8" y="302.2" text-anchor="middle" font-family="Liberation Sans, sans-serif" font-size="7" fill="#3a3a3a">20</text>
<path d="M533.8,293.9v-1.2M533.8,195.5v1.2" stroke="#bbb" stroke-width="0.6"/>
<text x="572.3" y="302.2" text-anchor="middle" font-family="Liberation Sans, sans-serif" font-size="7" fill="#3a3a3a">40</text>
<path d="M572.3,293.9v-1.2M572.3,195.5v1.2" stroke="#bbb" stroke-width="0.6"/>
<text x="474.3" y="216.8" text-anchor="end" font-family="Liberation Sans, sans-serif" font-size="7" fill="#3a3a3a">10</text>
<path d="M475.9,214.3h1.2M600.3,214.3h-1.2" stroke="#bbb" stroke-width="0.6"/>
<text x="474.3" y="236.1" text-anchor="end" font-family="Liberation Sans, sans-serif" font-size="7" fill="#3a3a3a">20</text>
<path d="M475.9,233.6h1.2M600.3,233.6h-1.2" stroke="#bbb" stroke-width="0.6"/>
<text x="474.3" y="255.4" text-anchor="end" font-family="Liberation Sans, sans-serif" font-size="7" fill="#3a3a3a">30</text>
<path d="M475.9,252.9h1.2M600.3,252.9h-1.2" stroke="#bbb" stroke-width="0.6"/>
<text x="474.3" y="274.7" text-anchor="end" font-family="Liberation Sans, sans-serif" font-size="7" fill="#3a3a3a">40</text>
<path d="M475.9,272.2h1.2M600.3,272.2h-1.2" stroke="#bbb" stroke-width="0.6"/>
<text x="474.3" y="294.0" text-anchor="end" font-family="Liberation Sans, sans-serif" font-size="7" fill="#3a3a3a">50</text>
<path d="M475.9,291.5h1.2M600.3,291.5h-1.2" stroke="#bbb" stroke-width="0.6"/>
<text x="62.5" y="12.2" textLength="57.4" lengthAdjust="spacingAndGlyphs" font-family="Liberation Sans, sans-serif" font-size="13.3" fill="#000">Before Fe</text>
<text x="205.4" y="12.2" textLength="67.9" lengthAdjust="spacingAndGlyphs" font-family="Liberation Sans, sans-serif" font-size="13.3" fill="#000">1st Fe dose</text>
<text x="350.8" y="12.2" textLength="72.1" lengthAdjust="spacingAndGlyphs" font-family="Liberation Sans, sans-serif" font-size="13.3" fill="#000">2nd Fe dose</text>
<text x="509.3" y="12.2" textLength="51.0" lengthAdjust="spacingAndGlyphs" font-family="Liberation Sans, sans-serif" font-size="13.3" fill="#000">T=600°C</text>
<text transform="translate(11.4,103) rotate(-90)" textLength="55.4" lengthAdjust="spacingAndGlyphs" font-family="Liberation Sans, sans-serif" font-size="11.4" fill="#111">Amplitude</text>
<text transform="translate(11.3,276.8) rotate(-90)" textLength="60.4" lengthAdjust="spacingAndGlyphs" font-family="Liberation Sans, sans-serif" font-size="11.4" fill="#111">Phase (rad)</text>
<rect x="211.8" y="146" width="211.6" height="10.8" fill="url(#jg)" stroke="#333" stroke-opacity="0.45" stroke-width="0.5"/>
<rect x="206.5" y="315.1" width="213" height="10.2" fill="url(#jg)" stroke="#333" stroke-opacity="0.45" stroke-width="0.5"/>
<text x="212.4" y="169.4" font-family="Liberation Sans, sans-serif" font-size="9.8" fill="#1a1a1a" text-anchor="middle">0</text>
<text x="253.8" y="169.4" font-family="Liberation Sans, sans-serif" font-size="9.8" fill="#1a1a1a" text-anchor="middle">0.2</text>
<path d="M254.1,146v1.6M254.1,156.8v-1.6" stroke="#222" stroke-opacity="0.6" stroke-width="0.6"/>
<text x="296.1" y="169.4" font-family="Liberation Sans, sans-serif" font-size="9.8" fill="#1a1a1a" text-anchor="middle">0.4</text>
<path d="M296.4,146v1.6M296.4,156.8v-1.6" stroke="#222" stroke-opacity="0.6" stroke-width="0.6"/>
<text x="338.7" y="169.4" font-family="Liberation Sans, sans-serif" font-size="9.8" fill="#1a1a1a" text-anchor="middle">0.6</text>
<path d="M338.8,146v1.6M338.8,156.8v-1.6" stroke="#222" stroke-opacity="0.6" stroke-width="0.6"/>
<text x="381.1" y="169.4" font-family="Liberation Sans, sans-serif" font-size="9.8" fill="#1a1a1a" text-anchor="middle">0.8</text>
<path d="M381.1,146v1.6M381.1,156.8v-1.6" stroke="#222" stroke-opacity="0.6" stroke-width="0.6"/>
<text x="424.6" y="169.4" font-family="Liberation Sans, sans-serif" font-size="9.8" fill="#1a1a1a" text-anchor="middle">1</text>
<text x="211.0" y="338.3" font-family="Liberation Sans, sans-serif" font-size="9" fill="#1a1a1a" text-anchor="middle">-3</text>
<path d="M211.3,315.1v1.5M211.3,325.3v-1.5" stroke="#222" stroke-opacity="0.6" stroke-width="0.6"/>
<text x="244.5" y="338.3" font-family="Liberation Sans, sans-serif" font-size="9" fill="#1a1a1a" text-anchor="middle">-2</text>
<path d="M245.2,315.1v1.5M245.2,325.3v-1.5" stroke="#222" stroke-opacity="0.6" stroke-width="0.6"/>
<text x="276.8" y="338.3" font-family="Liberation Sans, sans-serif" font-size="9" fill="#1a1a1a" text-anchor="middle">-1</text>
<path d="M279.1,315.1v1.5M279.1,325.3v-1.5" stroke="#222" stroke-opacity="0.6" stroke-width="0.6"/>
<text x="313" y="338.3" font-family="Liberation Sans, sans-serif" font-size="9" fill="#1a1a1a" text-anchor="middle">0</text>
<path d="M313.0,315.1v1.5M313.0,325.3v-1.5" stroke="#222" stroke-opacity="0.6" stroke-width="0.6"/>
<text x="346.3" y="338.3" font-family="Liberation Sans, sans-serif" font-size="9" fill="#1a1a1a" text-anchor="middle">1</text>
<path d="M346.9,315.1v1.5M346.9,325.3v-1.5" stroke="#222" stroke-opacity="0.6" stroke-width="0.6"/>
<text x="380" y="338.3" font-family="Liberation Sans, sans-serif" font-size="9" fill="#1a1a1a" text-anchor="middle">2</text>
<path d="M380.8,315.1v1.5M380.8,325.3v-1.5" stroke="#222" stroke-opacity="0.6" stroke-width="0.6"/>
<text x="414.6" y="338.3" font-family="Liberation Sans, sans-serif" font-size="9" fill="#1a1a1a" text-anchor="middle">3</text>
<path d="M414.7,315.1v1.5M414.7,325.3v-1.5" stroke="#222" stroke-opacity="0.6" stroke-width="0.6"/>
<text x="188.6" y="363.7" textLength="257.7" lengthAdjust="spacingAndGlyphs" font-family="Liberation Serif, serif" font-size="18.5" fill="#111">(c) Nanocrystal 3: Initial T=500°C</text>
<rect x="564.5" y="333.5" width="36.2" height="3.1" fill="#000"/>
<text x="565.4" y="348.6" textLength="34.9" lengthAdjust="spacingAndGlyphs" font-family="Liberation Sans, sans-serif" font-size="10.2" fill="#111">300 nm</text>
<path d="M74.5,28.6H62.5V47.6" fill="none" stroke="#fff" stroke-width="1.3"/><path d="M78.0,28.6l-4.5,-2.3v4.6z" fill="#fff"/><path d="M62.5,51.1l-2.3,-4.5h4.6z" fill="#fff"/><text x="80.0" y="31.400000000000002" font-family="Liberation Sans, sans-serif" font-size="8" fill="#fff" stroke="#fff" stroke-width="0.25">X</text><text x="60.2" y="60.1" font-family="Liberation Sans, sans-serif" font-size="8.5" fill="#fff" stroke="#fff" stroke-width="0.25">z</text>
<path d="M74.5,200.6H62.5V219.6" fill="none" stroke="#000" stroke-width="1.3"/><path d="M78.0,200.6l-4.5,-2.3v4.6z" fill="#000"/><path d="M62.5,223.1l-2.3,-4.5h4.6z" fill="#000"/><text x="80.0" y="203.4" font-family="Liberation Sans, sans-serif" font-size="8" fill="#000" stroke="#000" stroke-width="0.25">X</text><text x="60.2" y="232.1" font-family="Liberation Sans, sans-serif" font-size="8.5" fill="#000" stroke="#000" stroke-width="0.25">z</text>
<g transform="translate(118,253.3) rotate(18.8)" filter="url(#sh)"><path d="M0,-1.65H15V-3.6L20.4,0L15,3.6V1.65H0Z" fill="#9dc3ee" stroke="#46587a" stroke-width="0.7" stroke-linejoin="round"/></g>
<text x="120.6" y="272.3" font-family="Liberation Sans, sans-serif" font-size="10.5" fill="#111">Q</text>
</svg></body></html>
